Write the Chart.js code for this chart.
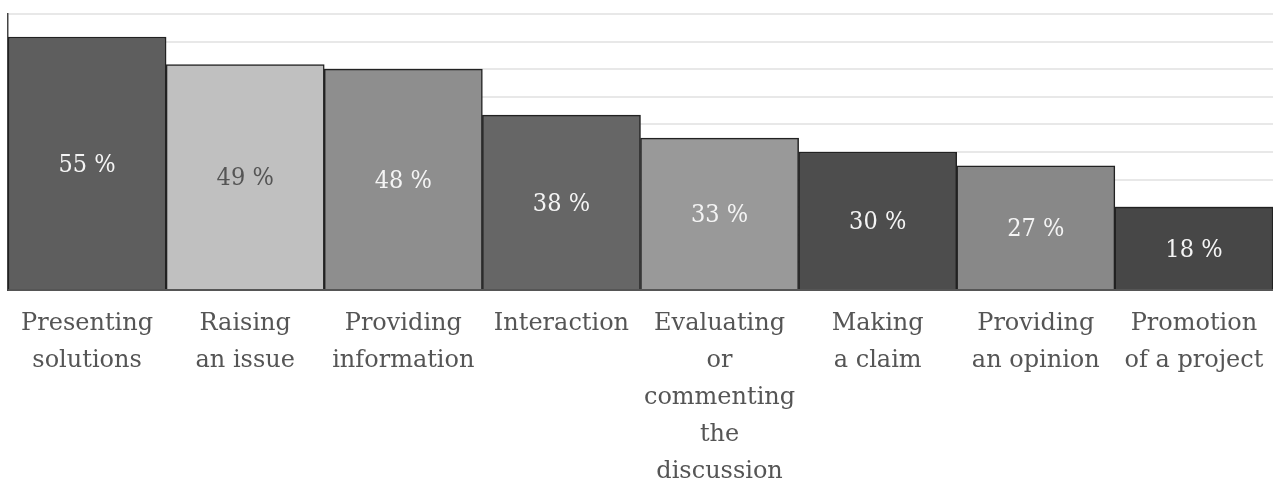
<!DOCTYPE html>
<html>
<head>
<meta charset="utf-8">
<script src="https://cdn.jsdelivr.net/npm/chart.js@4.4.1/dist/chart.umd.min.js"></script>
<style>
  html, body { margin: 0; padding: 0; background: #fff; }
  #wrap { width: 1273px; height: 485px; }
</style>
</head>
<body>
<div id="wrap"><canvas id="chart"></canvas></div>
<script>
const categories = [
  ["Presenting", "solutions"],
  ["Raising", "an issue"],
  ["Providing", "information"],
  ["Interaction"],
  ["Evaluating", "or", "commenting", "the", "discussion"],
  ["Making", "a claim"],
  ["Providing", "an opinion"],
  ["Promotion", "of a project"],
];
const shares = [55, 49, 48, 38, 33, 30, 27, 18];
const barColors = ["#5e5e5e", "#c0c0c0", "#8e8e8e", "#666666", "#999999", "#4d4d4d", "#888888", "#474747"];
const valueColors = ["#f4f4f4", "#555555", "#f4f4f4", "#f4f4f4", "#f4f4f4", "#f4f4f4", "#f4f4f4", "#f4f4f4"];

const FONT = "'DejaVu Serif', serif";

// draw "55 %" in the middle of each bar
const valueLabels = {
  id: "valueLabels",
  afterDatasetsDraw(chart) {
    const ctx = chart.ctx;
    const meta = chart.getDatasetMeta(0);
    ctx.save();
    ctx.font = `condensed 25px ${FONT}`;
    ctx.textAlign = "center";
    ctx.textBaseline = "middle";
    meta.data.forEach((bar, i) => {
      ctx.fillStyle = valueColors[i];
      ctx.fillText(`${shares[i]} %`, bar.x, (bar.y + bar.base) / 2 + 2);
    });
    ctx.restore();
  },
};

new Chart(document.getElementById("chart"), {
  type: "bar",
  data: {
    labels: categories,
    datasets: [
      {
        data: shares,
        backgroundColor: barColors,
        borderColor: "#222",
        borderWidth: 1.5,
        categoryPercentage: 1,
        barPercentage: 1,
      },
    ],
  },
  options: {
    responsive: true,
    maintainAspectRatio: false,
    animation: false,
    layout: { padding: { left: 8, right: 0, top: 14, bottom: 0 } },
    plugins: {
      legend: { display: false },
      tooltip: { enabled: false },
    },
    scales: {
      x: {
        grid: { display: false },
        border: { color: "#555", width: 2 },
        ticks: {
          color: "#555",
          font: { family: FONT, size: 24, style: "condensed", lineHeight: 1.54 },
          maxRotation: 0,
          autoSkip: false,
          padding: 7,
        },
        afterFit: (scale) => { scale.height = 195; },
      },
      y: {
        min: 0,
        max: 60,
        ticks: { display: false, stepSize: 6 },
        grid: { color: "#e8e8e8", lineWidth: 2, drawTicks: false },
        border: { color: "#444", width: 1.5 },
      },
    },
  },
  plugins: [valueLabels],
});
</script>
</body>
</html>
